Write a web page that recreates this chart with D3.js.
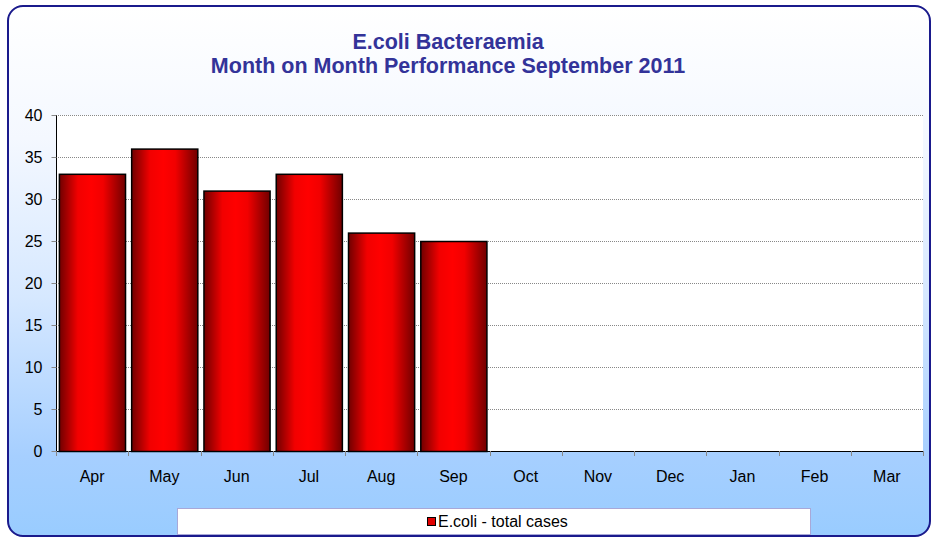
<!DOCTYPE html>
<html><head><meta charset="utf-8">
<script src="https://cdn.jsdelivr.net/npm/d3@7/dist/d3.min.js"></script>
<style>html,body{margin:0;padding:0;background:#fff;}svg{display:block;font-family:"Liberation Sans",Arial,sans-serif;}</style>
</head><body>
<script>
const months = ["Apr","May","Jun","Jul","Aug","Sep","Oct","Nov","Dec","Jan","Feb","Mar"];
const cases = [33,36,31,33,26,25,null,null,null,null,null,null];
const yTicks = [0,5,10,15,20,25,30,35,40];
const titleLines = ["E.coli Bacteraemia","Month on Month Performance September 2011"];
const seriesName = "E.coli - total cases";

const W = 932, H = 538;
const svg = d3.select("body").append("svg").attr("width", W).attr("height", H);
const defs = svg.append("defs");
const bg = defs.append("linearGradient").attr("id","bg").attr("x1",0).attr("y1",0).attr("x2",0).attr("y2",1);
[[0,"#ffffff"],[0.25,"#f4f8ff"],[0.55,"#d6e8ff"],[0.85,"#a6cfff"],[1,"#99ccff"]].forEach(s=>bg.append("stop").attr("offset",s[0]).attr("stop-color",s[1]));
const bar = defs.append("linearGradient").attr("id","bar").attr("x1",0).attr("y1",0).attr("x2",1).attr("y2",0);
[[0,"#700000"],[0.28,"#f20000"],[0.48,"#ff0000"],[0.66,"#f20000"],[1,"#700000"]].forEach(s=>bar.append("stop").attr("offset",s[0]).attr("stop-color",s[1]));

svg.append("rect").attr("x",8).attr("y",6).attr("width",922).attr("height",530).attr("rx",15).attr("ry",15)
  .attr("fill","url(#bg)").attr("stroke","#1a1a8c").attr("stroke-width",2);

const m = {l:56, r:923, t:115, b:451};
const x = d3.scaleBand().domain(months).range([m.l, m.r]).paddingInner(0.085).paddingOuter(0.04);
const xb = d3.scaleBand().domain(months).range([m.l, m.r]);
const y = d3.scaleLinear().domain([0,40]).range([m.b, m.t]);

svg.append("rect").attr("x",m.l).attr("y",m.t).attr("width",m.r-m.l).attr("height",m.b-m.t).attr("fill","#fff");

// gridlines
svg.append("g").selectAll("line").data(yTicks.filter(d=>d>0)).join("line")
  .attr("x1",m.l).attr("x2",m.r).attr("y1",d=>y(d)+0.5).attr("y2",d=>y(d)+0.5)
  .attr("stroke","#888").attr("stroke-width",1).attr("stroke-dasharray","1,1");

// bars
const data = months.map((mo,i)=>({mo, v:cases[i]})).filter(d=>d.v!=null);
svg.append("g").selectAll("rect").data(data).join("rect")
  .attr("x",d=>x(d.mo)+0.5).attr("y",d=>y(d.v)+0.5)
  .attr("width",x.bandwidth()).attr("height",d=>y(0)-y(d.v))
  .attr("fill","url(#bar)").attr("stroke","#000").attr("stroke-width",1.5);

const FONT = "Liberation Sans, Arial, sans-serif";
// y axis
const ya = svg.append("g").attr("transform",`translate(${m.l+0.5},0)`)
  .call(d3.axisLeft(y).tickValues(yTicks).tickSize(5).tickPadding(9));
ya.select(".domain").attr("stroke","#000").attr("d",`M0,${m.t}V${m.b}`);
ya.selectAll(".tick line").attr("stroke","#888");
ya.selectAll(".tick text").attr("font-size",16).attr("fill","#000").attr("font-family",FONT);

// x axis
const xa = svg.append("g").attr("transform",`translate(0,${m.b+0.5})`)
  .call(d3.axisBottom(xb).tickSize(0).tickPadding(19));
xa.select(".domain").attr("stroke","#000").attr("d",`M${m.l},0H${m.r}`);
xa.selectAll(".tick text").attr("font-size",16).attr("fill","#000").attr("font-family",FONT);
svg.append("g").selectAll("line").data(months.concat(["end"])).join("line")
  .attr("x1",(d,i)=>Math.round(m.l + i*xb.step())+0.5).attr("x2",(d,i)=>Math.round(m.l + i*xb.step())+0.5)
  .attr("y1",m.b).attr("y2",m.b+5).attr("stroke","#888");

// title
svg.append("g").selectAll("text").data(titleLines).join("text")
  .attr("x",448).attr("y",(d,i)=>49+i*24).attr("text-anchor","middle")
  .attr("font-size",21.5).attr("font-weight","bold").attr("fill","#333399").attr("font-family",FONT).text(d=>d);

// legend
const lg = svg.append("g");
lg.append("rect").attr("x",177.5).attr("y",508.5).attr("width",633).attr("height",26).attr("fill","#fff").attr("stroke","#a8a8d8");
lg.append("rect").attr("x",427.5).attr("y",517.5).attr("width",8).attr("height",8).attr("fill","#e00000").attr("stroke","#000").attr("stroke-width",1);
lg.append("text").attr("x",438).attr("y",527).attr("font-size",16).attr("fill","#000").attr("font-family",FONT).text(seriesName);
</script>
</body></html>
